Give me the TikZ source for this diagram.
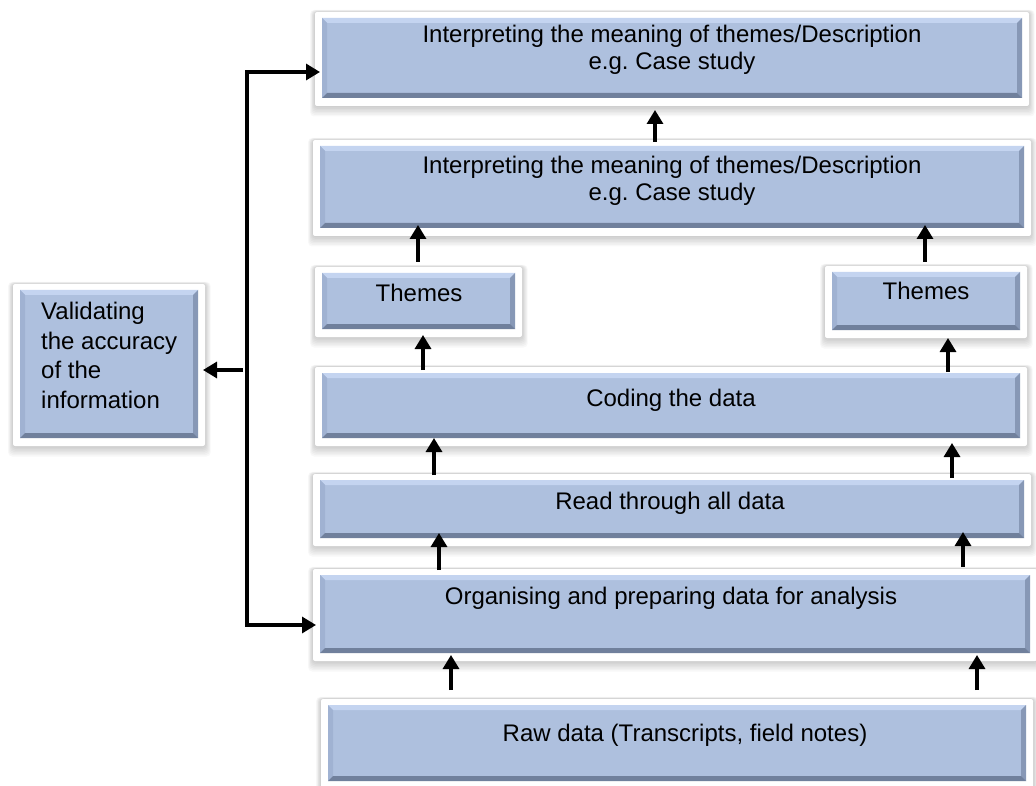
\documentclass[tikz,border=0pt]{standalone}
\usepackage{fontspec}
\setmainfont{Liberation Sans}
\usetikzlibrary{arrows.meta}
\frenchspacing
\definecolor{boxblue}{RGB}{174,192,222}
\definecolor{bevtop}{RGB}{196,212,240}
\definecolor{bevleft}{RGB}{160,178,210}
\definecolor{bevright}{RGB}{135,152,182}
\definecolor{bevbot}{RGB}{112,128,156}
\tikzset{
  bluebox/.style={fill=boxblue, draw=none, inner sep=0pt, outer sep=0pt,
    path picture={
      \fill[bevtop] (path picture bounding box.north west) -- (path picture bounding box.north east) -- ++(-5pt,-5pt) -- ([shift={(5pt,-5pt)}]path picture bounding box.north west) -- cycle;
      \fill[bevleft] (path picture bounding box.north west) -- (path picture bounding box.south west) -- ++(5pt,5pt) -- ([shift={(5pt,-5pt)}]path picture bounding box.north west) -- cycle;
      \fill[bevright] (path picture bounding box.north east) -- (path picture bounding box.south east) -- ++(-5pt,5pt) -- ([shift={(-5pt,-5pt)}]path picture bounding box.north east) -- cycle;
      \fill[bevbot] (path picture bounding box.south west) -- (path picture bounding box.south east) -- ++(-5pt,5pt) -- ([shift={(5pt,5pt)}]path picture bounding box.south west) -- cycle;
    }},
  txt/.style={font=\fontsize{24}{27}\selectfont, align=center, inner sep=0pt, text=black},
  arr/.style={line width=3.2pt, -{Triangle[width=16pt,length=14pt]}},
  bar/.style={line width=3.2pt},
}
\newcommand\mybox[5]{%
  \foreach \k in {1,...,7}{\fill[black, opacity=0.028, rounded corners=4pt] (#2-7-\k*0.7, #3-6-\k*0.3) rectangle (#4+7+\k*0.8, #5+8+\k*1.5);}
  \fill[white, rounded corners=2pt] (#2-7,#3-6) rectangle (#4+7,#5+8);
  \node[bluebox, minimum width={(#4-#2)*1pt}, minimum height={(#5-#3)*1pt}] (#1) at ({(#2+#4)/2},{(#3+#5)/2}) {};
}
\begin{document}
\begin{tikzpicture}[x=1pt,y=-1pt]
\useasboundingbox[fill=white] (0,0) rectangle (1036,786);
% boxes
\mybox{b1}{322}{18}{1022}{98}
\mybox{b2}{320}{146}{1024}{228}
\mybox{thL}{322}{273}{515}{329}
\mybox{thR}{832}{272}{1020}{330}
\mybox{cod}{322}{373}{1020}{438}
\mybox{rd}{320}{480}{1024}{538}
\mybox{org}{320}{575}{1030}{653}
\mybox{raw}{328}{705}{1026}{781}
\mybox{val}{20}{290}{198}{438}
% texts
\node[txt] (t1) at (672,50) {Interpreting the meaning of themes/Description\\e.g. Case study};
\node[txt] (t2) at (672,181) {Interpreting the meaning of themes/Description\\e.g. Case study};
\node[txt] (t3) at (419,293) {Themes};
\node[txt] (t4) at (926,291) {Themes};
\node[txt] (t5) at (671,400) {Coding the data};
\node[txt] (t6) at (670,503) {Read through all data};
\node[txt] (t7) at (671,598) {Organising and preparing data for analysis};
\node[txt] (t8) at (685,735) {Raw data (Transcripts, field notes)};
\node[txt, align=left, anchor=north west, font=\fontsize{24}{29.5}\selectfont] (t9) at (41,302) {Validating\\the accuracy\\of the\\information};
% vertical arrows
\draw[arr] ([yshift=4pt]b2.north -| 655,0) -- ([yshift=-12pt]b1.south -| 655,0);
\draw[arr] ([yshift=11pt]thL.north -| 418,0) -- ([yshift=3pt]b2.south -| 418,0);
\draw[arr] ([yshift=10pt]thR.north -| 925,0) -- ([yshift=3pt]b2.south -| 925,0);
\draw[arr] ([yshift=3pt]cod.north -| 423,0) -- ([yshift=-6pt]thL.south -| 423,0);
\draw[arr] ([yshift=1pt]cod.north -| 948,0) -- ([yshift=-8pt]thR.south -| 948,0);
\draw[arr] ([yshift=5pt]rd.north -| 434,0) -- (cod.south -| 434,0);
\draw[arr] ([yshift=2pt]rd.north -| 952,0) -- ([yshift=-5pt]cod.south -| 952,0);
\draw[arr] ([yshift=5pt]org.north -| 439,0) -- ([yshift=5pt]rd.south -| 439,0);
\draw[arr] ([yshift=8pt]org.north -| 963,0) -- ([yshift=6pt]rd.south -| 963,0);
\draw[arr] ([yshift=15pt]raw.north -| 451,0) -- ([yshift=-2pt]org.south -| 451,0);
\draw[arr] ([yshift=15pt]raw.north -| 977,0) -- ([yshift=-2pt]org.south -| 977,0);
% left connector
\coordinate (jt) at (247,72);
\coordinate (jb) at (247,625);
\coordinate (jm) at (243,370);
\draw[bar] ([yshift=1.6pt]jt) -- ([yshift=-1.6pt]jb);
\draw[arr] ([xshift=-1.6pt]jt) -- ([xshift=-2pt]jt -| b1.west);
\draw[arr] ([xshift=-1.6pt]jb) -- ([xshift=-4pt]jb -| org.west);
\draw[arr] (jm) -- ([xshift=5pt]jm -| val.east);
\end{tikzpicture}
\end{document}
